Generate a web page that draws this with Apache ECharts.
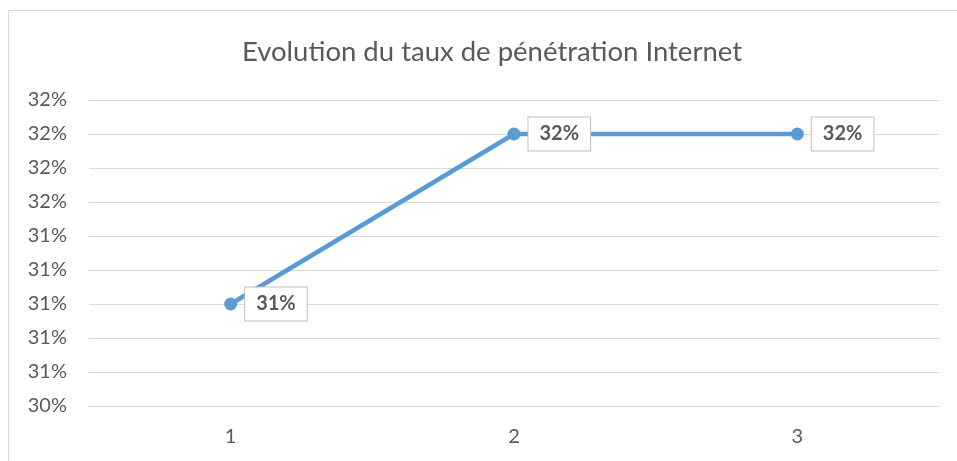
<!DOCTYPE html>
<html>
<head>
<meta charset="utf-8">
<script src="https://cdn.jsdelivr.net/npm/echarts@6/dist/echarts.min.js"></script>
<style>
    html, body { margin: 0; padding: 0; background: #fff; }
    #chart { width: 957px; height: 461px; }
</style>
</head>
<body>
<div id="chart"></div>
<script>
// data
const categories = ['1', '2', '3'];
const tauxValues = [31.0, 32.0, 32.0];
const yMin = 30.4;
const yMax = 32.2;
const yStep = 0.2;

let chart = echarts.init(document.getElementById('chart'));
const grey = '#595959';
const fontFam = 'Lato, "Open Sans", sans-serif';

chart.setOption({
    animation: false,
    graphic: [{
        type: 'rect',
        shape: {x: 8.5, y: 10.5, width: 1000, height: 500},
        style: {fill: 'none', stroke: '#d9d9d9', lineWidth: 1},
        silent: true
    }],
    title: {
        text: 'Evolution du taux de pénétration Internet',
        left: 487,
        textAlign: 'center',
        top: 33,
        textStyle: {color: grey, fontSize: 27.5, fontWeight: 'normal', fontFamily: fontFam}
    },
    grid: {left: 89, right: 18, top: 100, bottom: 55},
    xAxis: {
        type: 'category',
        data: categories,
        boundaryGap: true,
        axisLine: {lineStyle: {color: '#d9d9d9', width: 1}},
        axisTick: {show: false},
        axisLabel: {color: grey, fontSize: 20, fontFamily: fontFam, margin: 21}
    },
    yAxis: {
        type: 'value',
        min: yMin,
        max: yMax,
        interval: yStep,
        axisLine: {show: false},
        axisTick: {show: false},
        splitLine: {lineStyle: {color: '#d9d9d9', width: 1}},
        axisLabel: {
            color: grey, fontSize: 20, fontFamily: fontFam, margin: 22,
            formatter: v => Math.round(v) + '%'
        }
    },
    series: [{
        type: 'line',
        data: tauxValues,
        symbol: 'circle',
        symbolSize: 13,
        lineStyle: {color: '#5b9bd5', width: 4.5},
        itemStyle: {color: '#5b9bd5'},
        label: {
            show: true,
            position: 'right',
            distance: 8,
            formatter: p => Math.round(p.value) + '%',
            color: grey,
            fontSize: 20,
            lineHeight: 21,
            fontWeight: 'bold',
            fontFamily: fontFam,
            backgroundColor: '#fff',
            borderColor: '#bfbfbf',
            borderWidth: 1,
            padding: [6, 11, 6, 11]
        }
    }]
});
</script>
</body>
</html>
